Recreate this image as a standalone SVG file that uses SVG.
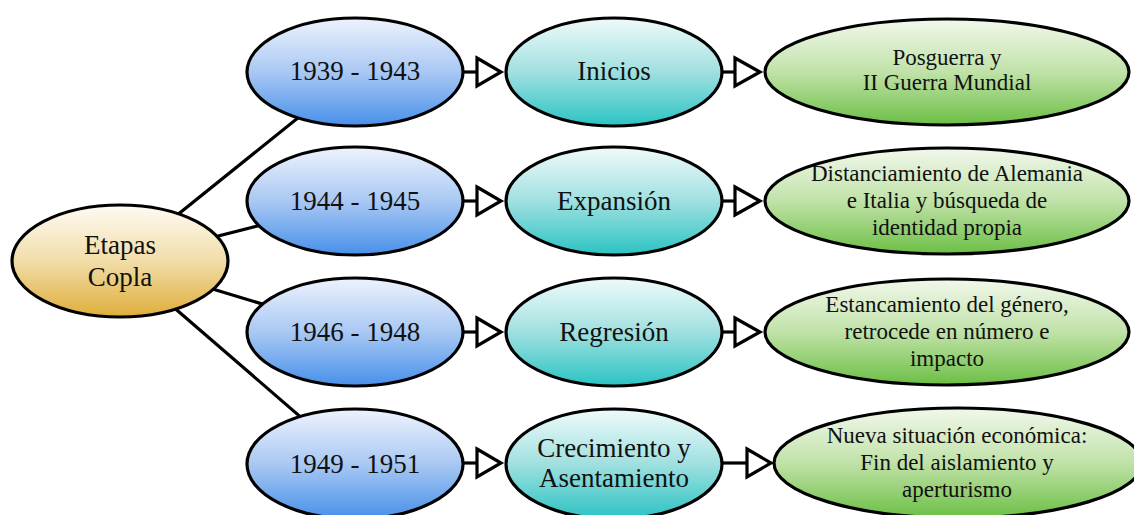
<svg xmlns="http://www.w3.org/2000/svg" width="1134" height="515" viewBox="0 0 1134 515">
<defs>
<linearGradient id="gGold" x1="0" y1="0" x2="0" y2="1"><stop offset="0" stop-color="#fefbf3"/><stop offset="0.5" stop-color="#f1dda8"/><stop offset="1" stop-color="#dfae3a"/></linearGradient>
<linearGradient id="gBlue" x1="0" y1="0" x2="0" y2="1"><stop offset="0" stop-color="#eef3fd"/><stop offset="0.5" stop-color="#a9c8f3"/><stop offset="1" stop-color="#4790ea"/></linearGradient>
<linearGradient id="gTeal" x1="0" y1="0" x2="0" y2="1"><stop offset="0" stop-color="#f0fafa"/><stop offset="0.5" stop-color="#a0e0e0"/><stop offset="1" stop-color="#2bc3c3"/></linearGradient>
<linearGradient id="gGreen" x1="0" y1="0" x2="0" y2="1"><stop offset="0" stop-color="#f2f8ec"/><stop offset="0.5" stop-color="#c0e2a8"/><stop offset="1" stop-color="#6cbf45"/></linearGradient>
</defs>
<style>
.e{stroke:#000;stroke-width:3.2}
.c{stroke:#000;stroke-width:3.2;fill:none}
.t{fill:#fff;stroke:#000;stroke-width:3.2;stroke-linejoin:miter}
text{font-family:"Liberation Serif","Times New Roman",serif;fill:#111;text-anchor:middle}
.big{font-size:27px}
.sm{font-size:23px}
</style>
<g id="connectors">
<line class="c" x1="120" y1="261" x2="355" y2="72"/>
<line class="c" x1="120" y1="261" x2="355" y2="201"/>
<line class="c" x1="120" y1="261" x2="355" y2="332"/>
<line class="c" x1="120" y1="261" x2="355" y2="464"/>
<line class="c" x1="462" y1="72" x2="477" y2="72"/><polygon class="t" points="477,58 501,72 477,86"/>
<line class="c" x1="462" y1="201" x2="477" y2="201"/><polygon class="t" points="477,187 501,201 477,215"/>
<line class="c" x1="462" y1="332" x2="477" y2="332"/><polygon class="t" points="477,318 501,332 477,346"/>
<line class="c" x1="462" y1="463" x2="477" y2="463"/><polygon class="t" points="477,449 501,463 477,477"/>
<line class="c" x1="721" y1="72" x2="735" y2="72"/><polygon class="t" points="735,58 760,72 735,86"/>
<line class="c" x1="721" y1="201" x2="735" y2="201"/><polygon class="t" points="735,187 760,201 735,215"/>
<line class="c" x1="721" y1="332" x2="735" y2="332"/><polygon class="t" points="735,318 760,332 735,346"/>
<line class="c" x1="721" y1="463" x2="747" y2="463"/><polygon class="t" points="747,449 771,463 747,477"/>
</g>
<g id="etapas"><ellipse class="e" cx="120" cy="261" rx="108" ry="56" fill="url(#gGold)"/><text class="big" x="120" y="254">Etapas</text><text class="big" x="120" y="286">Copla</text></g>
<g id="p1"><ellipse class="e" cx="355" cy="72" rx="108" ry="54" fill="url(#gBlue)"/><text class="big" x="355" y="80">1939 - 1943</text></g>
<g id="p2"><ellipse class="e" cx="355" cy="201" rx="108" ry="54" fill="url(#gBlue)"/><text class="big" x="355" y="210">1944 - 1945</text></g>
<g id="p3"><ellipse class="e" cx="355" cy="332" rx="108" ry="54" fill="url(#gBlue)"/><text class="big" x="355" y="341">1946 - 1948</text></g>
<g id="p4"><ellipse class="e" cx="355" cy="464" rx="108" ry="55" fill="url(#gBlue)"/><text class="big" x="355" y="473">1949 - 1951</text></g>
<g id="s1"><ellipse class="e" cx="614" cy="72" rx="108" ry="54" fill="url(#gTeal)"/><text class="big" x="614" y="80">Inicios</text></g>
<g id="s2"><ellipse class="e" cx="614" cy="201" rx="108" ry="54" fill="url(#gTeal)"/><text class="big" x="614" y="210">Expansión</text></g>
<g id="s3"><ellipse class="e" cx="614" cy="332" rx="108" ry="54" fill="url(#gTeal)"/><text class="big" x="614" y="341">Regresión</text></g>
<g id="s4"><ellipse class="e" cx="614" cy="464" rx="108" ry="55" fill="url(#gTeal)"/><text class="big" x="614" y="457">Crecimiento y</text><text class="big" x="614" y="487">Asentamiento</text></g>
<g id="d1"><ellipse class="e" cx="947" cy="72" rx="182" ry="53" fill="url(#gGreen)"/><text class="sm" x="947" y="65">Posguerra y</text><text class="sm" x="947" y="90">II Guerra Mundial</text></g>
<g id="d2"><ellipse class="e" cx="947" cy="201" rx="182" ry="53" fill="url(#gGreen)"/><text class="sm" x="947" y="181">Distanciamiento de Alemania</text><text class="sm" x="947" y="208">e Italia y búsqueda de</text><text class="sm" x="947" y="235">identidad propia</text></g>
<g id="d3"><ellipse class="e" cx="947" cy="332" rx="182" ry="53" fill="url(#gGreen)"/><text class="sm" x="947" y="312">Estancamiento del género,</text><text class="sm" x="947" y="339">retrocede en número e</text><text class="sm" x="947" y="366">impacto</text></g>
<g id="d4"><ellipse class="e" cx="958" cy="463" rx="184" ry="55" fill="url(#gGreen)"/><text class="sm" x="957" y="443">Nueva situación económica:</text><text class="sm" x="957" y="470">Fin del aislamiento y</text><text class="sm" x="957" y="497">aperturismo</text></g>
</svg>
